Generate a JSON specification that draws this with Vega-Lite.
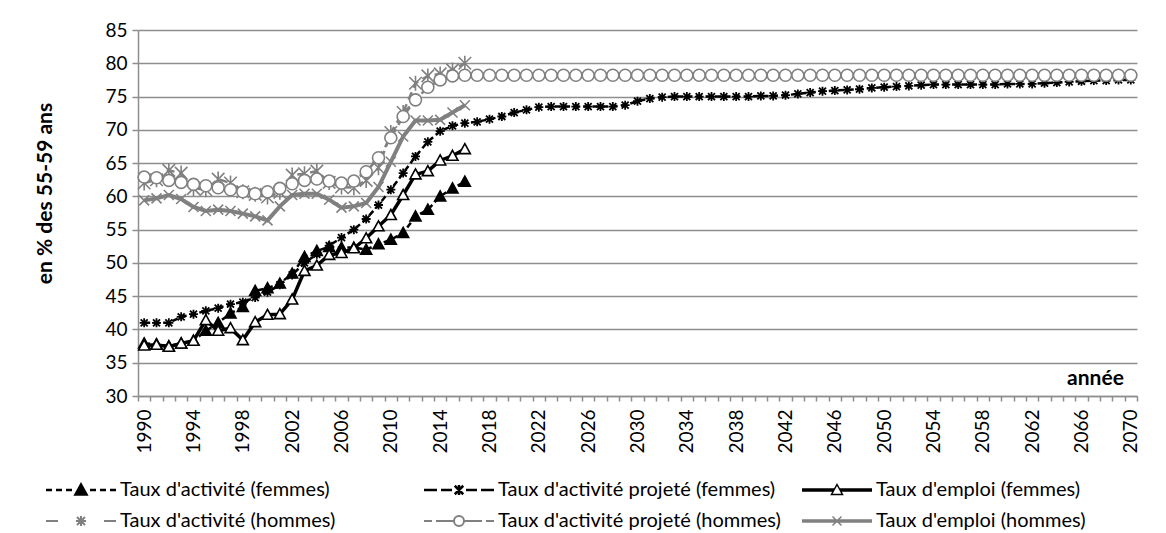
{
  "$schema": "https://vega.github.io/schema/vega-lite/v6.json",
  "width": 999,
  "height": 366,
  "autosize": "none",
  "padding": {"left": 138, "top": 30, "right": 29, "bottom": 137},
  "background": "#ffffff",
  "config": {
    "font": "Lato",
    "view": {"stroke": null},
    "axis": {"labelColor": "#000000", "titleColor": "#000000"}
  },
  "data": {
    "values": [
      {"year":1990,"series":"Taux d'activité (femmes)","value":37.9},
      {"year":1991,"series":"Taux d'activité (femmes)","value":37.8},
      {"year":1992,"series":"Taux d'activité (femmes)","value":37.5},
      {"year":1993,"series":"Taux d'activité (femmes)","value":37.9},
      {"year":1994,"series":"Taux d'activité (femmes)","value":38.3},
      {"year":1995,"series":"Taux d'activité (femmes)","value":39.8},
      {"year":1996,"series":"Taux d'activité (femmes)","value":41.0},
      {"year":1997,"series":"Taux d'activité (femmes)","value":42.4},
      {"year":1998,"series":"Taux d'activité (femmes)","value":43.4},
      {"year":1999,"series":"Taux d'activité (femmes)","value":45.8},
      {"year":2000,"series":"Taux d'activité (femmes)","value":46.2},
      {"year":2001,"series":"Taux d'activité (femmes)","value":46.9},
      {"year":2002,"series":"Taux d'activité (femmes)","value":48.4},
      {"year":2003,"series":"Taux d'activité (femmes)","value":50.9},
      {"year":2004,"series":"Taux d'activité (femmes)","value":51.8},
      {"year":2005,"series":"Taux d'activité (femmes)","value":52.4},
      {"year":2006,"series":"Taux d'activité (femmes)","value":52.3},
      {"year":2007,"series":"Taux d'activité (femmes)","value":52.3},
      {"year":2008,"series":"Taux d'activité (femmes)","value":52.0},
      {"year":2009,"series":"Taux d'activité (femmes)","value":52.8},
      {"year":2010,"series":"Taux d'activité (femmes)","value":53.5},
      {"year":2011,"series":"Taux d'activité (femmes)","value":54.5},
      {"year":2012,"series":"Taux d'activité (femmes)","value":57.0},
      {"year":2013,"series":"Taux d'activité (femmes)","value":58.0},
      {"year":2014,"series":"Taux d'activité (femmes)","value":60.0},
      {"year":2015,"series":"Taux d'activité (femmes)","value":61.2},
      {"year":2016,"series":"Taux d'activité (femmes)","value":62.2},

      {"year":1990,"series":"Taux d'activité projeté (femmes)","value":41.0},
      {"year":1991,"series":"Taux d'activité projeté (femmes)","value":41.0},
      {"year":1992,"series":"Taux d'activité projeté (femmes)","value":41.0},
      {"year":1993,"series":"Taux d'activité projeté (femmes)","value":41.9},
      {"year":1994,"series":"Taux d'activité projeté (femmes)","value":42.3},
      {"year":1995,"series":"Taux d'activité projeté (femmes)","value":42.8},
      {"year":1996,"series":"Taux d'activité projeté (femmes)","value":43.2},
      {"year":1997,"series":"Taux d'activité projeté (femmes)","value":43.8},
      {"year":1998,"series":"Taux d'activité projeté (femmes)","value":44.1},
      {"year":1999,"series":"Taux d'activité projeté (femmes)","value":44.8},
      {"year":2000,"series":"Taux d'activité projeté (femmes)","value":45.6},
      {"year":2001,"series":"Taux d'activité projeté (femmes)","value":46.7},
      {"year":2002,"series":"Taux d'activité projeté (femmes)","value":48.2},
      {"year":2003,"series":"Taux d'activité projeté (femmes)","value":50.0},
      {"year":2004,"series":"Taux d'activité projeté (femmes)","value":51.3},
      {"year":2005,"series":"Taux d'activité projeté (femmes)","value":52.6},
      {"year":2006,"series":"Taux d'activité projeté (femmes)","value":53.8},
      {"year":2007,"series":"Taux d'activité projeté (femmes)","value":55.0},
      {"year":2008,"series":"Taux d'activité projeté (femmes)","value":56.6},
      {"year":2009,"series":"Taux d'activité projeté (femmes)","value":58.7},
      {"year":2010,"series":"Taux d'activité projeté (femmes)","value":61.0},
      {"year":2011,"series":"Taux d'activité projeté (femmes)","value":63.5},
      {"year":2012,"series":"Taux d'activité projeté (femmes)","value":66.0},
      {"year":2013,"series":"Taux d'activité projeté (femmes)","value":68.2},
      {"year":2014,"series":"Taux d'activité projeté (femmes)","value":69.8},
      {"year":2015,"series":"Taux d'activité projeté (femmes)","value":70.6},
      {"year":2016,"series":"Taux d'activité projeté (femmes)","value":71.0},
      {"year":2017,"series":"Taux d'activité projeté (femmes)","value":71.2},
      {"year":2018,"series":"Taux d'activité projeté (femmes)","value":71.6},
      {"year":2019,"series":"Taux d'activité projeté (femmes)","value":72.0},
      {"year":2020,"series":"Taux d'activité projeté (femmes)","value":72.6},
      {"year":2021,"series":"Taux d'activité projeté (femmes)","value":73.0},
      {"year":2022,"series":"Taux d'activité projeté (femmes)","value":73.4},
      {"year":2023,"series":"Taux d'activité projeté (femmes)","value":73.5},
      {"year":2024,"series":"Taux d'activité projeté (femmes)","value":73.5},
      {"year":2025,"series":"Taux d'activité projeté (femmes)","value":73.5},
      {"year":2026,"series":"Taux d'activité projeté (femmes)","value":73.5},
      {"year":2027,"series":"Taux d'activité projeté (femmes)","value":73.5},
      {"year":2028,"series":"Taux d'activité projeté (femmes)","value":73.5},
      {"year":2029,"series":"Taux d'activité projeté (femmes)","value":73.7},
      {"year":2030,"series":"Taux d'activité projeté (femmes)","value":74.3},
      {"year":2031,"series":"Taux d'activité projeté (femmes)","value":74.7},
      {"year":2032,"series":"Taux d'activité projeté (femmes)","value":74.9},
      {"year":2033,"series":"Taux d'activité projeté (femmes)","value":75.0},
      {"year":2034,"series":"Taux d'activité projeté (femmes)","value":75.0},
      {"year":2035,"series":"Taux d'activité projeté (femmes)","value":75.0},
      {"year":2036,"series":"Taux d'activité projeté (femmes)","value":75.0},
      {"year":2037,"series":"Taux d'activité projeté (femmes)","value":75.0},
      {"year":2038,"series":"Taux d'activité projeté (femmes)","value":75.0},
      {"year":2039,"series":"Taux d'activité projeté (femmes)","value":75.0},
      {"year":2040,"series":"Taux d'activité projeté (femmes)","value":75.1},
      {"year":2041,"series":"Taux d'activité projeté (femmes)","value":75.1},
      {"year":2042,"series":"Taux d'activité projeté (femmes)","value":75.2},
      {"year":2043,"series":"Taux d'activité projeté (femmes)","value":75.4},
      {"year":2044,"series":"Taux d'activité projeté (femmes)","value":75.6},
      {"year":2045,"series":"Taux d'activité projeté (femmes)","value":75.8},
      {"year":2046,"series":"Taux d'activité projeté (femmes)","value":75.9},
      {"year":2047,"series":"Taux d'activité projeté (femmes)","value":76.0},
      {"year":2048,"series":"Taux d'activité projeté (femmes)","value":76.1},
      {"year":2049,"series":"Taux d'activité projeté (femmes)","value":76.3},
      {"year":2050,"series":"Taux d'activité projeté (femmes)","value":76.4},
      {"year":2051,"series":"Taux d'activité projeté (femmes)","value":76.5},
      {"year":2052,"series":"Taux d'activité projeté (femmes)","value":76.6},
      {"year":2053,"series":"Taux d'activité projeté (femmes)","value":76.7},
      {"year":2054,"series":"Taux d'activité projeté (femmes)","value":76.8},
      {"year":2055,"series":"Taux d'activité projeté (femmes)","value":76.8},
      {"year":2056,"series":"Taux d'activité projeté (femmes)","value":76.8},
      {"year":2057,"series":"Taux d'activité projeté (femmes)","value":76.8},
      {"year":2058,"series":"Taux d'activité projeté (femmes)","value":76.8},
      {"year":2059,"series":"Taux d'activité projeté (femmes)","value":76.8},
      {"year":2060,"series":"Taux d'activité projeté (femmes)","value":76.9},
      {"year":2061,"series":"Taux d'activité projeté (femmes)","value":76.9},
      {"year":2062,"series":"Taux d'activité projeté (femmes)","value":76.9},
      {"year":2063,"series":"Taux d'activité projeté (femmes)","value":77.0},
      {"year":2064,"series":"Taux d'activité projeté (femmes)","value":77.1},
      {"year":2065,"series":"Taux d'activité projeté (femmes)","value":77.2},
      {"year":2066,"series":"Taux d'activité projeté (femmes)","value":77.3},
      {"year":2067,"series":"Taux d'activité projeté (femmes)","value":77.4},
      {"year":2068,"series":"Taux d'activité projeté (femmes)","value":77.4},
      {"year":2069,"series":"Taux d'activité projeté (femmes)","value":77.5},
      {"year":2070,"series":"Taux d'activité projeté (femmes)","value":77.5},

      {"year":1990,"series":"Taux d'emploi (femmes)","value":37.6},
      {"year":1991,"series":"Taux d'emploi (femmes)","value":37.7},
      {"year":1992,"series":"Taux d'emploi (femmes)","value":37.4},
      {"year":1993,"series":"Taux d'emploi (femmes)","value":37.9},
      {"year":1994,"series":"Taux d'emploi (femmes)","value":38.3},
      {"year":1995,"series":"Taux d'emploi (femmes)","value":41.4},
      {"year":1996,"series":"Taux d'emploi (femmes)","value":39.8},
      {"year":1997,"series":"Taux d'emploi (femmes)","value":40.2},
      {"year":1998,"series":"Taux d'emploi (femmes)","value":38.4},
      {"year":1999,"series":"Taux d'emploi (femmes)","value":41.1},
      {"year":2000,"series":"Taux d'emploi (femmes)","value":42.2},
      {"year":2001,"series":"Taux d'emploi (femmes)","value":42.3},
      {"year":2002,"series":"Taux d'emploi (femmes)","value":44.5},
      {"year":2003,"series":"Taux d'emploi (femmes)","value":48.8},
      {"year":2004,"series":"Taux d'emploi (femmes)","value":49.6},
      {"year":2005,"series":"Taux d'emploi (femmes)","value":51.2},
      {"year":2006,"series":"Taux d'emploi (femmes)","value":51.5},
      {"year":2007,"series":"Taux d'emploi (femmes)","value":52.2},
      {"year":2008,"series":"Taux d'emploi (femmes)","value":53.7},
      {"year":2009,"series":"Taux d'emploi (femmes)","value":55.5},
      {"year":2010,"series":"Taux d'emploi (femmes)","value":57.2},
      {"year":2011,"series":"Taux d'emploi (femmes)","value":60.2},
      {"year":2012,"series":"Taux d'emploi (femmes)","value":63.3},
      {"year":2013,"series":"Taux d'emploi (femmes)","value":63.8},
      {"year":2014,"series":"Taux d'emploi (femmes)","value":65.4},
      {"year":2015,"series":"Taux d'emploi (femmes)","value":66.1},
      {"year":2016,"series":"Taux d'emploi (femmes)","value":67.1},

      {"year":1990,"series":"Taux d'activité (hommes)","value":62.0},
      {"year":1991,"series":"Taux d'activité (hommes)","value":62.5},
      {"year":1992,"series":"Taux d'activité (hommes)","value":63.9},
      {"year":1993,"series":"Taux d'activité (hommes)","value":63.5},
      {"year":1994,"series":"Taux d'activité (hommes)","value":61.2},
      {"year":1995,"series":"Taux d'activité (hommes)","value":61.0},
      {"year":1996,"series":"Taux d'activité (hommes)","value":62.6},
      {"year":1997,"series":"Taux d'activité (hommes)","value":62.0},
      {"year":1998,"series":"Taux d'activité (hommes)","value":60.7},
      {"year":1999,"series":"Taux d'activité (hommes)","value":60.3},
      {"year":2000,"series":"Taux d'activité (hommes)","value":59.9},
      {"year":2001,"series":"Taux d'activité (hommes)","value":60.6},
      {"year":2002,"series":"Taux d'activité (hommes)","value":63.2},
      {"year":2003,"series":"Taux d'activité (hommes)","value":63.4},
      {"year":2004,"series":"Taux d'activité (hommes)","value":63.8},
      {"year":2005,"series":"Taux d'activité (hommes)","value":62.1},
      {"year":2006,"series":"Taux d'activité (hommes)","value":61.4},
      {"year":2007,"series":"Taux d'activité (hommes)","value":61.3},
      {"year":2008,"series":"Taux d'activité (hommes)","value":62.4},
      {"year":2009,"series":"Taux d'activité (hommes)","value":64.3},
      {"year":2010,"series":"Taux d'activité (hommes)","value":69.6},
      {"year":2011,"series":"Taux d'activité (hommes)","value":72.6},
      {"year":2012,"series":"Taux d'activité (hommes)","value":77.0},
      {"year":2013,"series":"Taux d'activité (hommes)","value":78.1},
      {"year":2014,"series":"Taux d'activité (hommes)","value":78.4},
      {"year":2015,"series":"Taux d'activité (hommes)","value":79.0},
      {"year":2016,"series":"Taux d'activité (hommes)","value":80.0},

      {"year":1990,"series":"Taux d'activité projeté (hommes)","value":62.9},
      {"year":1991,"series":"Taux d'activité projeté (hommes)","value":62.8},
      {"year":1992,"series":"Taux d'activité projeté (hommes)","value":62.4},
      {"year":1993,"series":"Taux d'activité projeté (hommes)","value":62.1},
      {"year":1994,"series":"Taux d'activité projeté (hommes)","value":61.8},
      {"year":1995,"series":"Taux d'activité projeté (hommes)","value":61.6},
      {"year":1996,"series":"Taux d'activité projeté (hommes)","value":61.3},
      {"year":1997,"series":"Taux d'activité projeté (hommes)","value":61.0},
      {"year":1998,"series":"Taux d'activité projeté (hommes)","value":60.7},
      {"year":1999,"series":"Taux d'activité projeté (hommes)","value":60.4},
      {"year":2000,"series":"Taux d'activité projeté (hommes)","value":60.7},
      {"year":2001,"series":"Taux d'activité projeté (hommes)","value":61.2},
      {"year":2002,"series":"Taux d'activité projeté (hommes)","value":61.9},
      {"year":2003,"series":"Taux d'activité projeté (hommes)","value":62.4},
      {"year":2004,"series":"Taux d'activité projeté (hommes)","value":62.6},
      {"year":2005,"series":"Taux d'activité projeté (hommes)","value":62.3},
      {"year":2006,"series":"Taux d'activité projeté (hommes)","value":62.0},
      {"year":2007,"series":"Taux d'activité projeté (hommes)","value":62.3},
      {"year":2008,"series":"Taux d'activité projeté (hommes)","value":63.7},
      {"year":2009,"series":"Taux d'activité projeté (hommes)","value":65.8},
      {"year":2010,"series":"Taux d'activité projeté (hommes)","value":68.8},
      {"year":2011,"series":"Taux d'activité projeté (hommes)","value":72.0},
      {"year":2012,"series":"Taux d'activité projeté (hommes)","value":74.5},
      {"year":2013,"series":"Taux d'activité projeté (hommes)","value":76.4},
      {"year":2014,"series":"Taux d'activité projeté (hommes)","value":77.5},
      {"year":2015,"series":"Taux d'activité projeté (hommes)","value":78.1},
      {"year":2016,"series":"Taux d'activité projeté (hommes)","value":78.2},
      {"year":2017,"series":"Taux d'activité projeté (hommes)","value":78.2},
      {"year":2018,"series":"Taux d'activité projeté (hommes)","value":78.2},
      {"year":2019,"series":"Taux d'activité projeté (hommes)","value":78.2},
      {"year":2020,"series":"Taux d'activité projeté (hommes)","value":78.2},
      {"year":2021,"series":"Taux d'activité projeté (hommes)","value":78.2},
      {"year":2022,"series":"Taux d'activité projeté (hommes)","value":78.2},
      {"year":2023,"series":"Taux d'activité projeté (hommes)","value":78.2},
      {"year":2024,"series":"Taux d'activité projeté (hommes)","value":78.2},
      {"year":2025,"series":"Taux d'activité projeté (hommes)","value":78.2},
      {"year":2026,"series":"Taux d'activité projeté (hommes)","value":78.2},
      {"year":2027,"series":"Taux d'activité projeté (hommes)","value":78.2},
      {"year":2028,"series":"Taux d'activité projeté (hommes)","value":78.2},
      {"year":2029,"series":"Taux d'activité projeté (hommes)","value":78.2},
      {"year":2030,"series":"Taux d'activité projeté (hommes)","value":78.2},
      {"year":2031,"series":"Taux d'activité projeté (hommes)","value":78.2},
      {"year":2032,"series":"Taux d'activité projeté (hommes)","value":78.2},
      {"year":2033,"series":"Taux d'activité projeté (hommes)","value":78.2},
      {"year":2034,"series":"Taux d'activité projeté (hommes)","value":78.2},
      {"year":2035,"series":"Taux d'activité projeté (hommes)","value":78.2},
      {"year":2036,"series":"Taux d'activité projeté (hommes)","value":78.2},
      {"year":2037,"series":"Taux d'activité projeté (hommes)","value":78.2},
      {"year":2038,"series":"Taux d'activité projeté (hommes)","value":78.2},
      {"year":2039,"series":"Taux d'activité projeté (hommes)","value":78.2},
      {"year":2040,"series":"Taux d'activité projeté (hommes)","value":78.2},
      {"year":2041,"series":"Taux d'activité projeté (hommes)","value":78.2},
      {"year":2042,"series":"Taux d'activité projeté (hommes)","value":78.2},
      {"year":2043,"series":"Taux d'activité projeté (hommes)","value":78.2},
      {"year":2044,"series":"Taux d'activité projeté (hommes)","value":78.2},
      {"year":2045,"series":"Taux d'activité projeté (hommes)","value":78.2},
      {"year":2046,"series":"Taux d'activité projeté (hommes)","value":78.2},
      {"year":2047,"series":"Taux d'activité projeté (hommes)","value":78.2},
      {"year":2048,"series":"Taux d'activité projeté (hommes)","value":78.2},
      {"year":2049,"series":"Taux d'activité projeté (hommes)","value":78.2},
      {"year":2050,"series":"Taux d'activité projeté (hommes)","value":78.2},
      {"year":2051,"series":"Taux d'activité projeté (hommes)","value":78.2},
      {"year":2052,"series":"Taux d'activité projeté (hommes)","value":78.2},
      {"year":2053,"series":"Taux d'activité projeté (hommes)","value":78.2},
      {"year":2054,"series":"Taux d'activité projeté (hommes)","value":78.2},
      {"year":2055,"series":"Taux d'activité projeté (hommes)","value":78.2},
      {"year":2056,"series":"Taux d'activité projeté (hommes)","value":78.2},
      {"year":2057,"series":"Taux d'activité projeté (hommes)","value":78.2},
      {"year":2058,"series":"Taux d'activité projeté (hommes)","value":78.2},
      {"year":2059,"series":"Taux d'activité projeté (hommes)","value":78.2},
      {"year":2060,"series":"Taux d'activité projeté (hommes)","value":78.2},
      {"year":2061,"series":"Taux d'activité projeté (hommes)","value":78.2},
      {"year":2062,"series":"Taux d'activité projeté (hommes)","value":78.2},
      {"year":2063,"series":"Taux d'activité projeté (hommes)","value":78.2},
      {"year":2064,"series":"Taux d'activité projeté (hommes)","value":78.2},
      {"year":2065,"series":"Taux d'activité projeté (hommes)","value":78.2},
      {"year":2066,"series":"Taux d'activité projeté (hommes)","value":78.2},
      {"year":2067,"series":"Taux d'activité projeté (hommes)","value":78.2},
      {"year":2068,"series":"Taux d'activité projeté (hommes)","value":78.2},
      {"year":2069,"series":"Taux d'activité projeté (hommes)","value":78.2},
      {"year":2070,"series":"Taux d'activité projeté (hommes)","value":78.2},

      {"year":1990,"series":"Taux d'emploi (hommes)","value":59.4},
      {"year":1991,"series":"Taux d'emploi (hommes)","value":59.7},
      {"year":1992,"series":"Taux d'emploi (hommes)","value":60.2},
      {"year":1993,"series":"Taux d'emploi (hommes)","value":59.6},
      {"year":1994,"series":"Taux d'emploi (hommes)","value":58.4},
      {"year":1995,"series":"Taux d'emploi (hommes)","value":57.8},
      {"year":1996,"series":"Taux d'emploi (hommes)","value":58.0},
      {"year":1997,"series":"Taux d'emploi (hommes)","value":57.8},
      {"year":1998,"series":"Taux d'emploi (hommes)","value":57.4},
      {"year":1999,"series":"Taux d'emploi (hommes)","value":57.0},
      {"year":2000,"series":"Taux d'emploi (hommes)","value":56.4},
      {"year":2001,"series":"Taux d'emploi (hommes)","value":58.5},
      {"year":2002,"series":"Taux d'emploi (hommes)","value":60.2},
      {"year":2003,"series":"Taux d'emploi (hommes)","value":60.4},
      {"year":2004,"series":"Taux d'emploi (hommes)","value":60.4},
      {"year":2005,"series":"Taux d'emploi (hommes)","value":59.5},
      {"year":2006,"series":"Taux d'emploi (hommes)","value":58.3},
      {"year":2007,"series":"Taux d'emploi (hommes)","value":58.5},
      {"year":2008,"series":"Taux d'emploi (hommes)","value":59.0},
      {"year":2009,"series":"Taux d'emploi (hommes)","value":61.4},
      {"year":2010,"series":"Taux d'emploi (hommes)","value":65.2},
      {"year":2011,"series":"Taux d'emploi (hommes)","value":69.0},
      {"year":2012,"series":"Taux d'emploi (hommes)","value":71.4},
      {"year":2013,"series":"Taux d'emploi (hommes)","value":71.4},
      {"year":2014,"series":"Taux d'emploi (hommes)","value":71.5},
      {"year":2015,"series":"Taux d'emploi (hommes)","value":72.6},
      {"year":2016,"series":"Taux d'emploi (hommes)","value":73.7}
    ]
  },
  "encoding": {
    "x": {
      "field": "year",
      "type": "ordinal",
      "scale": {"type": "band", "paddingInner": 0, "paddingOuter": 0},
      "axis": {
        "title": "année",
        "titleX": 957,
        "titleY": -18,
        "titleAngle": 0,
        "titleAlign": "center",
        "titleBaseline": "middle",
        "titleFontSize": 21,
        "titleFontWeight": "bold",
        "labelAngle": -90,
        "labelFontSize": 19,
        "labelExpr": "(datum.value - 1990) % 4 == 0 ? datum.label : ''",
        "labelOverlap": false,
        "labelPadding": 8,
        "labelLimit": 0,
        "tickBand": "extent",
        "tickSize": 5,
        "tickColor": "#8e8e8e",
        "tickWidth": 1.5,
        "domainColor": "#8e8e8e",
        "domainWidth": 1.5,
        "grid": false
      }
    },
    "y": {
      "field": "value",
      "type": "quantitative",
      "scale": {"domain": [30, 85], "nice": false, "zero": false},
      "axis": {
        "title": "en % des 55-59 ans",
        "titleX": -93,
        "titleY": 163,
        "titleAlign": "center",
        "titleBaseline": "middle",
        "titleFontSize": 21,
        "titleFontWeight": "bold",
        "values": [30, 35, 40, 45, 50, 55, 60, 65, 70, 75, 80, 85],
        "labelFontSize": 19,
        "labelPadding": 5,
        "tickSize": 6,
        "tickColor": "#8e8e8e",
        "tickWidth": 1.5,
        "domain": true,
        "domainColor": "#8e8e8e",
        "domainWidth": 1.5,
        "grid": true,
        "gridColor": "#8e8e8e",
        "gridWidth": 1.5
      }
    }
  },
  "layer": [
    {
      "transform": [{"filter": {"field": "series", "oneOf": ["Taux d'activité (femmes)", "Taux d'activité projeté (femmes)"]}}],
      "mark": {"type": "line", "strokeWidth": 2.5, "strokeDash": [6, 3.5]},
      "encoding": {
        "color": {
          "field": "series",
          "type": "nominal",
          "scale": {
            "domain": ["Taux d'activité (femmes)", "Taux d'activité projeté (femmes)", "Taux d'emploi (femmes)", "Taux d'activité (hommes)", "Taux d'activité projeté (hommes)", "Taux d'emploi (hommes)"],
            "range": ["#000000", "#000000", "#000000", "#808080", "#808080", "#808080"]
          },
          "legend": {
            "title": null,
            "orient": "none",
            "legendX": -18,
            "legendY": 460,
            "columns": 3,
            "direction": "horizontal",
            "gridAlign": "all",
            "columnPadding": 16,
            "rowPadding": 11,
            "padding": 0,
            "symbolSize": 100,
            "labelFontSize": 20,
            "labelColor": "#000000",
            "labelLimit": 0,
            "encode": {
              "symbols": {
                "update": {
                  "shape": {"signal": "['M-14.8,0L-13.6,0M-12.8,0L-11.6,0M-10.8,0L-9.6,0M-6,0L-4.8,0M-4,0L-2.8,0M-2,0L-0.8,0M-7.8,-1.1L-6.7,0.9L-8.9,0.9Z','M-14.8,0L-12.2,0M-11.4,0L-9.2,0M-6.4,0L-4.2,0M-3.4,0L-0.8,0M-7.8,-1L-7.8,1M-8.65,-0.85L-6.95,0.85M-8.65,0.85L-6.95,-0.85','M-14.8,-0.2L-8.3,-0.2M-14.8,0L-8.4,0M-14.8,0.2L-8.5,0.2M-7.3,-0.2L-0.8,-0.2M-7.2,0L-0.8,0M-7.1,0.2L-0.8,0.2M-7.8,-1.1L-6.7,0.9L-8.9,0.9Z','M-14.8,0L-12.4,0M-3.2,0L-0.8,0M-7.8,-1L-7.8,1M-8.8,0L-6.8,0M-8.6,-0.8L-7,0.8M-8.6,0.8L-7,-0.8','M-14.8,0L-13.2,0M-12.4,0L-8.8,0M-6.8,0L-3.2,0M-2.4,0L-0.8,0M-6.8,0A1,1 0 1,1 -8.8,0A1,1 0 1,1 -6.8,0Z','M-14.8,-0.2L-0.8,-0.2M-14.8,0L-0.8,0M-14.8,0.2L-0.8,0.2M-8.7,-0.9L-6.9,0.9M-8.7,0.9L-6.9,-0.9'][datum.index]"},
                  "fill": {"signal": "['#000000','#000000','#ffffff','#808080','#ffffff','#808080'][datum.index]"},
                  "strokeWidth": {"signal": "[2.5,2.5,1.5,2,2,1.5][datum.index]"},
                  "strokeDash": {"value": []},
                  "opacity": {"value": 1}
                }
              }
            }
          }
        }
      }
    },
    {
      "transform": [{"filter": {"field": "series", "equal": "Taux d'emploi (femmes)"}}],
      "mark": {"type": "line", "strokeWidth": 3.5},
      "encoding": {
        "color": {
          "field": "series",
          "type": "nominal",
          "scale": {
            "domain": ["Taux d'activité (femmes)", "Taux d'activité projeté (femmes)", "Taux d'emploi (femmes)", "Taux d'activité (hommes)", "Taux d'activité projeté (hommes)", "Taux d'emploi (hommes)"],
            "range": ["#000000", "#000000", "#000000", "#808080", "#808080", "#808080"]
          }
        }
      }
    },
    {
      "transform": [{"filter": {"field": "series", "oneOf": ["Taux d'activité (hommes)", "Taux d'activité projeté (hommes)"]}}],
      "mark": {"type": "line", "strokeWidth": 2.5, "strokeDash": [8, 5]},
      "encoding": {
        "color": {
          "field": "series",
          "type": "nominal",
          "scale": {
            "domain": ["Taux d'activité (femmes)", "Taux d'activité projeté (femmes)", "Taux d'emploi (femmes)", "Taux d'activité (hommes)", "Taux d'activité projeté (hommes)", "Taux d'emploi (hommes)"],
            "range": ["#000000", "#000000", "#000000", "#808080", "#808080", "#808080"]
          }
        }
      }
    },
    {
      "transform": [{"filter": {"field": "series", "equal": "Taux d'emploi (hommes)"}}],
      "mark": {"type": "line", "strokeWidth": 4},
      "encoding": {
        "color": {
          "field": "series",
          "type": "nominal",
          "scale": {
            "domain": ["Taux d'activité (femmes)", "Taux d'activité projeté (femmes)", "Taux d'emploi (femmes)", "Taux d'activité (hommes)", "Taux d'activité projeté (hommes)", "Taux d'emploi (hommes)"],
            "range": ["#000000", "#000000", "#000000", "#808080", "#808080", "#808080"]
          }
        }
      }
    },
    {
      "transform": [{"filter": {"field": "series", "equal": "Taux d'activité (femmes)"}}],
      "mark": {"type": "point", "filled": true, "size": 100, "strokeWidth": 1.6, "opacity": 1, "shape": "M0,-1.1L1.1,0.9L-1.1,0.9Z", "fill": "#000000", "stroke": "#000000"}
    },
    {
      "transform": [{"filter": {"field": "series", "equal": "Taux d'activité projeté (femmes)"}}],
      "mark": {"type": "point", "filled": true, "size": 100, "strokeWidth": 1.8, "opacity": 1, "shape": "M0,-0.9L0,0.9M-0.9,0L0.9,0M-0.7,-0.7L0.7,0.7M-0.7,0.7L0.7,-0.7", "fill": "#000000", "stroke": "#000000"}
    },
    {
      "transform": [{"filter": {"field": "series", "equal": "Taux d'emploi (femmes)"}}],
      "mark": {"type": "point", "filled": true, "size": 100, "strokeWidth": 1.6, "opacity": 1, "shape": "M0,-1.1L1.1,0.9L-1.1,0.9Z", "fill": "#ffffff", "stroke": "#000000"}
    },
    {
      "transform": [{"filter": {"field": "series", "equal": "Taux d'activité (hommes)"}}],
      "mark": {"type": "point", "filled": true, "size": 100, "strokeWidth": 1.6, "opacity": 1, "shape": "M0,-1.5L0,1.5M-1.25,-1.25L1.25,1.25M-1.25,1.25L1.25,-1.25", "fill": "#808080", "stroke": "#808080"}
    },
    {
      "transform": [{"filter": {"field": "series", "equal": "Taux d'activité projeté (hommes)"}}],
      "mark": {"type": "point", "filled": true, "size": 100, "strokeWidth": 1.6, "opacity": 1, "shape": "M1.2,0A1.2,1.2 0 1,1 -1.2,0A1.2,1.2 0 1,1 1.2,0Z", "fill": "#ffffff", "stroke": "#808080"}
    },
    {
      "transform": [{"filter": {"field": "series", "equal": "Taux d'emploi (hommes)"}}],
      "mark": {"type": "point", "filled": true, "size": 100, "strokeWidth": 1.6, "opacity": 1, "shape": "M-1,-1L1,1M-1,1L1,-1", "fill": "#808080", "stroke": "#808080"}
    }
  ]
}
